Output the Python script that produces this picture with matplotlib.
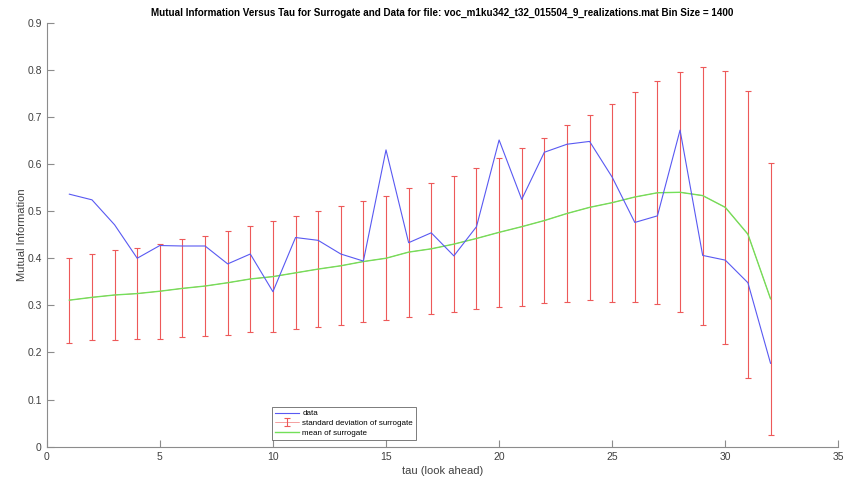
import numpy as np
import matplotlib
matplotlib.use("Agg")
import matplotlib.pyplot as plt

plt.rcParams['font.family'] = ['Liberation Sans', 'DejaVu Sans']

# lag values (tau)
tau = np.arange(1, 33)

# mutual information of the data
data_mi = [0.536, 0.524, 0.471, 0.400, 0.427, 0.426, 0.426, 0.388, 0.409, 0.329,
           0.444, 0.438, 0.409, 0.394, 0.630, 0.433, 0.454, 0.405, 0.467, 0.651,
           0.525, 0.625, 0.642, 0.648, 0.572, 0.476, 0.490, 0.672, 0.406, 0.396,
           0.348, 0.177]

# mean mutual information of the surrogates
surr_mean = [0.311, 0.317, 0.322, 0.325, 0.330, 0.336, 0.341, 0.348, 0.356, 0.361,
             0.369, 0.377, 0.384, 0.393, 0.400, 0.413, 0.420, 0.430, 0.442, 0.455,
             0.467, 0.480, 0.495, 0.508, 0.518, 0.530, 0.539, 0.540, 0.533, 0.508,
             0.451, 0.314]

# standard deviation of the surrogates
surr_std = [0.090, 0.091, 0.096, 0.097, 0.101, 0.104, 0.106, 0.110, 0.113, 0.118,
            0.120, 0.124, 0.126, 0.129, 0.132, 0.137, 0.139, 0.145, 0.150, 0.158,
            0.168, 0.175, 0.187, 0.197, 0.210, 0.223, 0.237, 0.255, 0.274, 0.290,
            0.305, 0.289]

title = ("Mutual Information Versus Tau for Surrogate and Data for file: "
         "voc_m1ku342_t32_015504_9_realizations.mat Bin Size = 1400")

blue = (0.35, 0.35, 0.95)
red = (0.93, 0.35, 0.35)
green = (0.45, 0.88, 0.35)

fig = plt.figure(figsize=(8.59, 4.83), dpi=100)
ax = fig.add_axes([0.0544, 0.0752, 0.9216, 0.8778])

h_data, = ax.plot(tau, data_mi, color=blue, lw=0.8, label='data', zorder=4)
# thin red line under the green mean, so the legend entry shows line + bar
h_err = ax.errorbar(tau, surr_mean, yerr=surr_std, fmt='-', color=red,
                    lw=0.4, elinewidth=0.8, capsize=2.5, capthick=0.8,
                    label='standard deviation of surrogate', zorder=2)
h_mean, = ax.plot(tau, surr_mean, color=green, lw=1.0,
                  label='mean of surrogate', zorder=3)

ax.set_xlim(0, 35)
ax.set_ylim(0, 0.9)
ax.set_xticks(np.arange(0, 36, 5))
ax.set_yticks(np.arange(0, 0.91, 0.1))
ax.set_yticklabels(['0', '0.1', '0.2', '0.3', '0.4', '0.5', '0.6', '0.7', '0.8', '0.9'])

for side in ['top', 'right']:
    ax.spines[side].set_visible(False)
for side in ['left', 'bottom']:
    ax.spines[side].set_color('#8c8c8c')
    ax.spines[side].set_linewidth(0.8)
ax.tick_params(direction='in', length=5, width=0.8, color='#8c8c8c',
               labelcolor='#404040', labelsize=7.5)

ax.set_title(title, fontsize=7.1, fontweight='bold', pad=5)
ax.set_xlabel('tau (look ahead)', fontsize=8, color='#404040', labelpad=3)
ax.set_ylabel('Mutual Information', fontsize=8, color='#404040', labelpad=0)

leg = ax.legend(handles=[h_data, h_err, h_mean], loc='lower left',
                bbox_to_anchor=(0.284, 0.016), fontsize=5.8,
                frameon=True, fancybox=False, handlelength=3.0, handletextpad=0.4,
                borderpad=0.4, labelspacing=0.25, borderaxespad=0)
leg.get_frame().set_edgecolor('#404040')
leg.get_frame().set_linewidth(0.6)
leg.set_zorder(5)

fig.savefig('out.png', dpi=100)
